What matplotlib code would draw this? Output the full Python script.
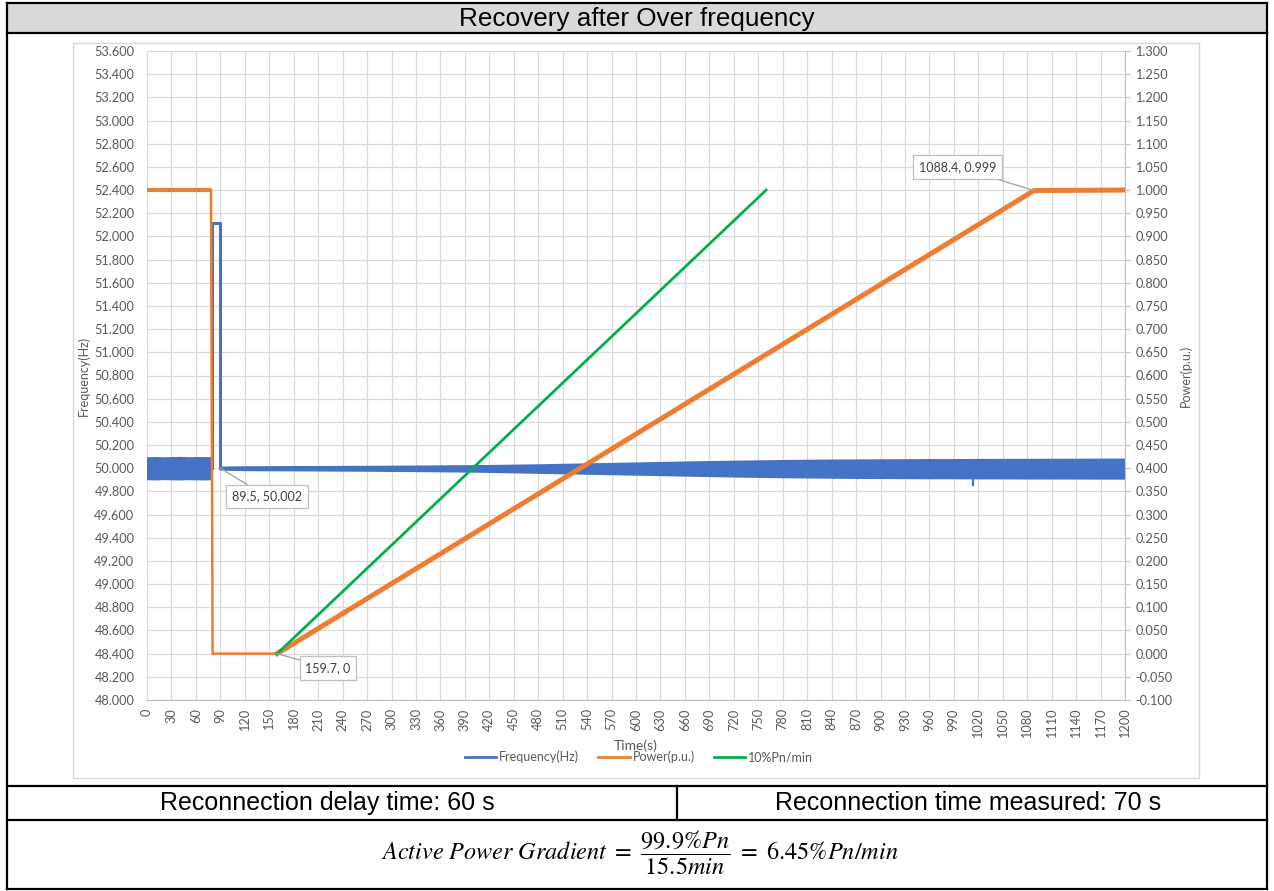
import matplotlib
matplotlib.use("Agg")
import matplotlib.pyplot as plt
from matplotlib.patches import Rectangle
from matplotlib.lines import Line2D

plt.rcParams["mathtext.fontset"] = "stix"

# ---------------- data ----------------
title = "Recovery after Over frequency"
cell_left = "Reconnection delay time: 60 s"
cell_right = "Reconnection time measured: 70 s"
formula = r"$Active\ Power\ Gradient\ =\ \dfrac{99.9\%Pn}{15.5min}\ =\ 6.45\%Pn/min$"

# frequency noise band before the trip (envelope of the measured signal)
freq_pre_t = [0, 10, 20, 30, 40, 50, 60, 70, 78]
freq_pre_hi = [50.092, 50.094, 50.091, 50.093, 50.095, 50.092, 50.093, 50.094, 50.092]
freq_pre_lo = [49.908, 49.906, 49.909, 49.907, 49.906, 49.908, 49.907, 49.906, 49.908]

# over-frequency step and return to nominal
freq_step_t = [80.0, 80.0, 89.5, 89.5]
freq_step_f = [50.000, 52.116, 52.116, 50.002]

# frequency noise band after the return to nominal
freq_post_t = [89.5, 120, 150, 180, 210, 240, 270, 300, 330, 360, 390, 420, 450,
               480, 510, 540, 570, 600, 630, 660, 690, 720, 750, 780, 810, 840,
               870, 900, 930, 960, 990, 1020, 1050, 1080, 1110, 1140, 1170, 1200]
freq_post_hi = [50.010, 50.013, 50.014, 50.015, 50.015, 50.016, 50.017, 50.018,
                50.019, 50.021, 50.022, 50.024, 50.027, 50.030, 50.034, 50.038,
                50.042, 50.046, 50.050, 50.054, 50.058, 50.061, 50.064, 50.067,
                50.069, 50.071, 50.072, 50.073, 50.074, 50.075, 50.075, 50.076,
                50.077, 50.077, 50.078, 50.078, 50.079, 50.079]
freq_post_lo = [49.992, 49.987, 49.986, 49.985, 49.984, 49.983, 49.982, 49.980,
                49.979, 49.977, 49.975, 49.972, 49.968, 49.964, 49.960, 49.956,
                49.952, 49.948, 49.944, 49.940, 49.936, 49.932, 49.929, 49.926,
                49.924, 49.922, 49.920, 49.919, 49.918, 49.917, 49.917, 49.916,
                49.916, 49.915, 49.915, 49.915, 49.914, 49.914]
freq_spike_t = [1013, 1013]
freq_spike_f = [49.916, 49.855]

# active power (p.u.)
power_t = [0, 78.5, 80.5, 159.7, 1088.4, 1200]
power_pu = [1.0, 1.0, 0.0, 0.0, 0.999, 1.0]

# reference ramp 10 % Pn / min
ramp_t = [159.7, 759.7]
ramp_pu = [0.0, 1.0]

# point labels
label_freq = (89.5, 50.002, "89.5, 50.002")
label_start = (159.7, 0.0, "159.7, 0")
label_end = (1088.4, 0.999, "1088.4, 0.999")

x_ticks = list(range(0, 1201, 30))
freq_ticks = [round(48.0 + 0.2 * i, 3) for i in range(29)]
power_ticks = [round(-0.1 + 0.05 * i, 3) for i in range(29)]

# ---------------- figure ----------------
W, H = 1274, 891
fig = plt.figure(figsize=(W / 100, H / 100), dpi=100)
fig.patch.set_facecolor("white")


def fx(px):
    return px / W


def fy(py):
    return 1 - py / H


BLUE = "#4472c4"
ORANGE = "#ed7d31"
GREEN = "#00b050"
GRID = "#d9d9d9"
TXT = "#595959"
TICK_FONT = "Lato"
TS = 9.2

# table frame
fig.add_artist(Rectangle((fx(7), fy(33)), fx(1267) - fx(7), fy(3) - fy(33),
                         transform=fig.transFigure, facecolor="#d9d9d9",
                         edgecolor="none", zorder=0))
# light chart box
fig.add_artist(Rectangle((fx(73), fy(778)), fx(1199) - fx(73), fy(43) - fy(778),
                         transform=fig.transFigure, facecolor="white",
                         edgecolor="#d9d9d9", lw=1.0, zorder=0))


def hline(y, x0, x1, lw=1.6):
    fig.add_artist(Line2D([fx(x0), fx(x1)], [fy(y), fy(y)], transform=fig.transFigure,
                          color="black", lw=lw, zorder=5))


def vline(x, y0, y1, lw=1.6):
    fig.add_artist(Line2D([fx(x), fx(x)], [fy(y0), fy(y1)], transform=fig.transFigure,
                          color="black", lw=lw, zorder=5))


for y in (3, 33, 786, 820, 889):
    hline(y, 7, 1267)
vline(7, 3, 889)
vline(1267, 3, 889)
vline(677, 786, 820)

fig.text(fx(637), fy(19), title, ha="center", va="center",
         family="Liberation Sans", fontsize=18.8)
fig.text(fx(327), fy(803), cell_left, ha="center", va="center",
         family="Liberation Sans", fontsize=18)
fig.text(fx(968), fy(803), cell_right, ha="center", va="center",
         family="Liberation Sans", fontsize=18)
fig.text(fx(640), fy(853), formula, ha="center", va="center", fontsize=17.5)

# ---------------- axes ----------------
ax = fig.add_axes([fx(147), fy(700), fx(1125) - fx(147), fy(51) - fy(700)])
ax2 = ax.twinx()

ax.set_xlim(0, 1200)
ax.set_ylim(48.0, 53.6)
ax2.set_ylim(-0.1, 1.3)

ax.set_xticks(x_ticks)
ax.set_xticklabels([str(v) for v in x_ticks], rotation=90, family=TICK_FONT,
                   fontsize=TS, color=TXT)
ax.set_yticks(freq_ticks)
ax.set_yticklabels([f"{v:.3f}" for v in freq_ticks], family=TICK_FONT,
                   fontsize=TS, color=TXT)
ax2.set_yticks(power_ticks)
ax2.set_yticklabels([f"{v:.3f}" for v in power_ticks], family=TICK_FONT,
                    fontsize=TS, color=TXT)

ax.tick_params(axis="x", length=0, pad=6)
ax.tick_params(axis="y", length=0, pad=9)
ax2.tick_params(axis="y", length=3.5, width=0.8, color="#bfbfbf", pad=4)

ax.grid(True, color=GRID, lw=0.9)
ax.set_axisbelow(True)
for sp in ("top", "left", "right"):
    ax.spines[sp].set_visible(False)
    ax2.spines[sp].set_visible(False)
ax2.spines["bottom"].set_visible(False)
ax.spines["bottom"].set_color("#bfbfbf")
ax2.spines["right"].set_visible(True)
ax2.spines["right"].set_color("#bfbfbf")

ax.set_xlabel("Time(s)", family=TICK_FONT, fontsize=10, color=TXT, labelpad=1)
ax.set_ylabel("Frequency(Hz)", family=TICK_FONT, fontsize=9, color=TXT, labelpad=3)
ax2.set_ylabel("Power(p.u.)", family=TICK_FONT, fontsize=9, color=TXT, labelpad=5)

# frequency trace
ax.fill_between(freq_pre_t, freq_pre_lo, freq_pre_hi, color=BLUE, lw=1.2, zorder=2)
ax.plot(freq_step_t, freq_step_f, color=BLUE, lw=2.2, zorder=2)
ax.fill_between(freq_post_t, freq_post_lo, freq_post_hi, color=BLUE, lw=1.4, zorder=2)
ax.plot(freq_spike_t, freq_spike_f, color=BLUE, lw=1.5, zorder=2)

# power trace
ax2.plot(power_t[:2], power_pu[:2], color=ORANGE, lw=3, solid_capstyle="butt", zorder=3)
ax2.plot(power_t[1:4], power_pu[1:4], color=ORANGE, lw=1.8, zorder=3)
ax2.plot(power_t[3:], power_pu[3:], color=ORANGE, lw=3.6, zorder=3)
# reference ramp
ax2.plot(ramp_t, ramp_pu, color=GREEN, lw=2, zorder=4)

box = dict(boxstyle="square,pad=0.45", fc="white", ec="#bfbfbf", lw=0.9)
arrow = dict(arrowstyle="-", color="#a6a6a6", lw=1.0, shrinkA=0, shrinkB=0)
lab_kw = dict(ha="center", va="center", family=TICK_FONT, fontsize=9,
              color="#404040", bbox=box, arrowprops=arrow, zorder=6)

t, f, s = label_freq
ax2.annotate(s, xy=(t, f), xycoords=ax.transData, xytext=(147.2, 49.756),
             textcoords=ax.transData, **lab_kw)
t, p, s = label_start
ax2.annotate(s, xy=(t, p), xytext=(222.1, -0.031), **lab_kw)
t, p, s = label_end
ax2.annotate(s, xy=(t, p), xytext=(994.5, 1.0498), **lab_kw)

handles = [Line2D([], [], color=BLUE, lw=2), Line2D([], [], color=ORANGE, lw=2),
           Line2D([], [], color=GREEN, lw=2)]
fig.legend(handles, ["Frequency(Hz)", "Power(p.u.)", "10%Pn/min"], ncol=3,
           loc="center", bbox_to_anchor=(fx(639), fy(757)), frameon=False,
           prop={"family": TICK_FONT, "size": 9}, labelcolor=TXT,
           handlelength=2.5, handletextpad=0.25, columnspacing=1.5)

fig.savefig("out.png", dpi=100)
